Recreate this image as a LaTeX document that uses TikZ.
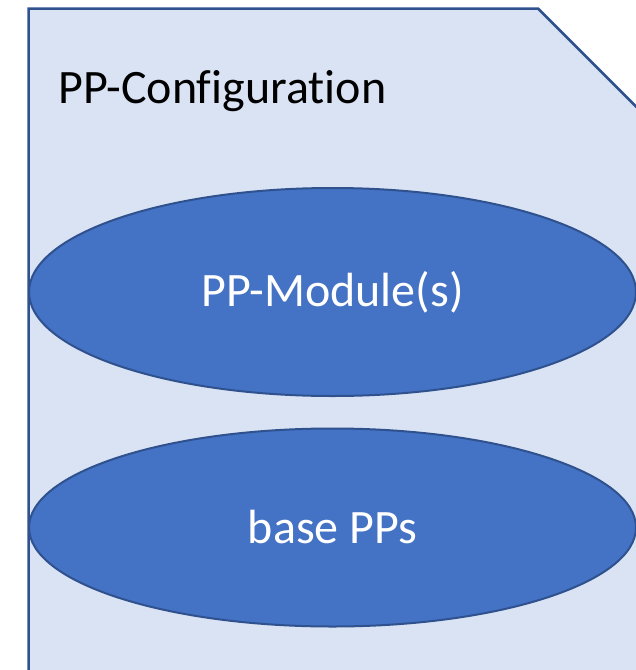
\documentclass[tikz,border=0pt]{standalone}
\usepackage{fontspec}
\setmainfont{Carlito}[Ligatures=NoCommon]
\usepackage{xcolor}
\usetikzlibrary{shapes.geometric, positioning}

\definecolor{pagefill}{HTML}{DAE3F3}
\definecolor{edgeblue}{HTML}{2F528F}
\definecolor{modfill}{HTML}{4472C4}

\begin{document}
\begin{tikzpicture}[x=1pt,y=-1pt,
    module/.style={ellipse, draw=edgeblue, line width=2pt, fill=modfill,
      text=white, inner sep=0pt, minimum width=607pt,
      font=\fontsize{48}{58}\selectfont}]
      \useasboundingbox (0,0) rectangle (636,670);
      \clip (0,0) rectangle (636,670);

      % configuration sheet with cut corner
      \draw[draw=edgeblue, line width=2.5pt, fill=pagefill]
        (28.5,8.5) -- (538,8.5) -- (680,150.5) -- (680,700) -- (28.5,700) -- cycle;
      \node[anchor=base west, inner sep=0pt, font=\fontsize{48}{58}\selectfont]
        at (58,103) (config) {PP-Configuration};

      \node[module, minimum height=208pt] at (332.5,292) (modules) {PP-Module(s)};
      \node[module, minimum height=198pt] at (332.5,527.5) (base) {base PPs};
    \end{tikzpicture}
\end{document}
